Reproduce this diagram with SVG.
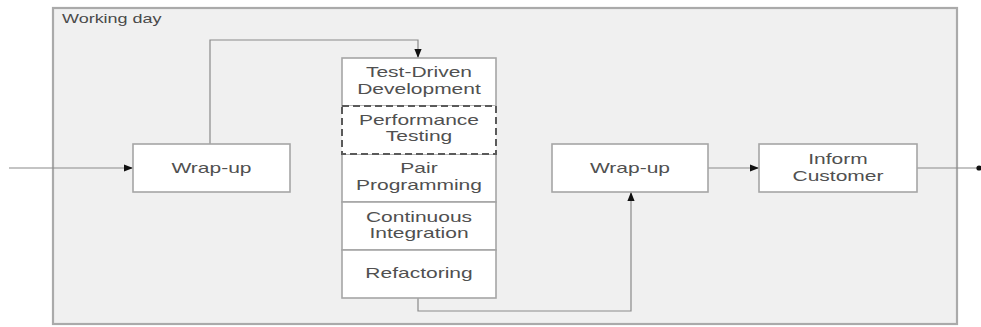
<svg xmlns="http://www.w3.org/2000/svg" width="981" height="327" viewBox="0 0 981 327">
  <defs>
    <marker id="arrow" viewBox="0 0 10 10" refX="10" refY="5" markerWidth="10" markerHeight="9" markerUnits="userSpaceOnUse" orient="auto">
      <path d="M0,1 L10,5 L0,9 Z" fill="#111"/>
    </marker>
    <marker id="dot" viewBox="0 0 6 6" refX="3" refY="3" markerWidth="6" markerHeight="6" markerUnits="userSpaceOnUse">
      <circle cx="3" cy="3" r="2.6" fill="#111"/>
    </marker>
  </defs>
  <style>
    .box { fill: #ffffff; stroke: #a6a6a6; stroke-width: 1.6; }
    .dashed { fill: #ffffff; stroke: #5a5a5a; stroke-width: 2; stroke-dasharray: 7 4; }
    .wire { fill: none; stroke: #8a8a8a; stroke-width: 1.2; }
    .lbl { font-family: "Liberation Sans", Arial, sans-serif; font-size: 14px; fill: #505050; text-anchor: middle;
           transform-box: fill-box; transform-origin: center; transform: scaleX(1.5); }
    .title { font-family: "Liberation Sans", Arial, sans-serif; font-size: 12px; fill: #4a4a4a;
             transform-box: fill-box; transform-origin: left; transform: scaleX(1.5); }
  </style>

  <!-- Working day frame -->
  <g id="working-day">
    <rect x="53" y="8" width="904" height="316" fill="#f0f0f0" stroke="#aaaaaa" stroke-width="2.2"/>
    <text class="title" x="62" y="23">Working day</text>
  </g>

  <!-- Connectors -->
  <g id="connectors">
    <path class="wire" d="M9,168 H133" marker-end="url(#arrow)"/>
    <path class="wire" d="M210,144 V40 H418 V58" marker-end="url(#arrow)"/>
    <path class="wire" d="M418,298 V311 H631 V192" marker-end="url(#arrow)"/>
    <path class="wire" d="M708,168 H759" marker-end="url(#arrow)"/>
    <path class="wire" d="M917,168 H979" marker-end="url(#dot)"/>
  </g>

  <g id="wrapup-start">
    <rect class="box" x="133" y="144" width="157" height="48"/>
    <text class="lbl" x="211.5" y="173">Wrap-up</text>
  </g>

  <!-- Practice stack -->
  <g id="tdd">
    <rect class="box" x="342" y="58" width="154" height="48"/>
    <text class="lbl" x="419" y="77">Test-Driven</text>
    <text class="lbl" x="419" y="94">Development</text>
  </g>
  <g id="pair-programming">
    <rect class="box" x="342" y="154" width="154" height="48"/>
    <text class="lbl" x="419" y="173">Pair</text>
    <text class="lbl" x="419" y="190">Programming</text>
  </g>
  <g id="continuous-integration">
    <rect class="box" x="342" y="202" width="154" height="48"/>
    <text class="lbl" x="419" y="222">Continuous</text>
    <text class="lbl" x="419" y="238">Integration</text>
  </g>
  <g id="refactoring">
    <rect class="box" x="342" y="250" width="154" height="48"/>
    <text class="lbl" x="419" y="278">Refactoring</text>
  </g>
  <g id="performance-testing">
    <rect class="dashed" x="342" y="106" width="154" height="48"/>
    <text class="lbl" x="419" y="125">Performance</text>
    <text class="lbl" x="419" y="141">Testing</text>
  </g>

  <g id="wrapup-end">
    <rect class="box" x="552" y="144" width="156" height="48"/>
    <text class="lbl" x="630" y="173">Wrap-up</text>
  </g>
  <g id="inform-customer">
    <rect class="box" x="759" y="144" width="158" height="48"/>
    <text class="lbl" x="838" y="164">Inform</text>
    <text class="lbl" x="838" y="181">Customer</text>
  </g>
</svg>
